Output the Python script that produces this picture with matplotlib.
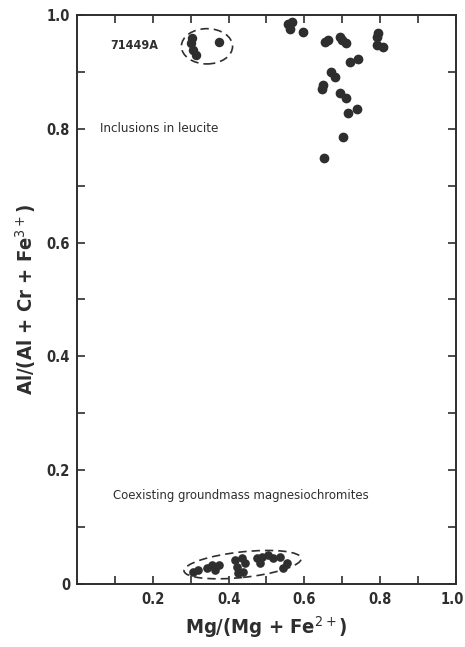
import matplotlib.pyplot as plt
import matplotlib.transforms as mtransforms
from matplotlib.patches import Ellipse

plt.rcParams['font.family'] = ['DejaVu Sans']
plt.rcParams['font.stretch'] = 'condensed'

# Inclusions in leucite (upper right group)
incl_x = [0.556, 0.562, 0.566, 0.596, 0.654, 0.662, 0.694, 0.699, 0.710,
          0.794, 0.792, 0.792, 0.807, 0.720, 0.741, 0.670, 0.681, 0.649,
          0.646, 0.694, 0.710, 0.715, 0.739, 0.702, 0.652]
incl_y = [0.985, 0.976, 0.988, 0.970, 0.953, 0.956, 0.961, 0.956, 0.951,
          0.968, 0.961, 0.947, 0.944, 0.917, 0.923, 0.900, 0.891, 0.877,
          0.870, 0.863, 0.854, 0.828, 0.835, 0.786, 0.749]

# Sample 71449A
s71_x = [0.304, 0.300, 0.306, 0.314, 0.375]
s71_y = [0.960, 0.950, 0.938, 0.930, 0.953]

# Coexisting groundmass magnesiochromites
gm_x = [0.306, 0.319, 0.343, 0.356, 0.365, 0.375, 0.417, 0.422, 0.425,
        0.435, 0.443, 0.438, 0.475, 0.483, 0.488, 0.504, 0.517, 0.536,
        0.554, 0.543]
gm_y = [0.021, 0.025, 0.028, 0.033, 0.024, 0.033, 0.042, 0.030, 0.019,
        0.046, 0.037, 0.021, 0.046, 0.037, 0.047, 0.051, 0.046, 0.047,
        0.037, 0.028]

x_ticks = [0.2, 0.4, 0.6, 0.8, 1.0]
x_labels = ['0.2', '0.4', '0.6', '0.8', '1.0']
y_ticks = [0, 0.2, 0.4, 0.6, 0.8, 1.0]
y_labels = ['0', '0.2', '0.4', '0.6', '0.8', '1.0']
minor_ticks = [0.1, 0.3, 0.5, 0.7, 0.9]

ink = '#2e2e2e'

fig = plt.figure(figsize=(4.65, 6.47), dpi=100)
ax = fig.add_axes([0.1656, 0.0974, 0.815, 0.8794])

ax.plot(incl_x, incl_y, 'o', color=ink, ms=6.0, mec=ink)
ax.plot(s71_x, s71_y, 'o', color=ink, ms=5.8, mec=ink)
ax.plot(gm_x, gm_y, 'o', color=ink, ms=5.2, mec=ink)

ax.add_patch(Ellipse((0.343, 0.945), 0.135, 0.062, fill=False, ec=ink,
                     lw=1.2, ls=(0, (5, 3))))
ax.add_patch(Ellipse((0.437, 0.034), 0.31, 0.045, angle=4, fill=False,
                     ec=ink, lw=1.2, ls=(0, (5, 3))))

ax.text(0.087, 0.947, '71449A', fontsize=9, fontweight='bold', color=ink,
        va='center')
ax.text(0.061, 0.801, 'Inclusions in leucite', fontsize=9.5, color=ink,
        va='center')
ax.text(0.095, 0.155, 'Coexisting groundmass magnesiochromites', fontsize=9.4,
        color=ink, va='center')

ax.set_xlim(0, 1.0)
ax.set_ylim(0, 1.0)
ax.set_xticks(x_ticks)
ax.set_xticklabels(x_labels)
ax.set_yticks(y_ticks)
ax.set_yticklabels(y_labels)
ax.set_xticks(minor_ticks, minor=True)
ax.set_yticks(minor_ticks, minor=True)
ax.tick_params(which='both', direction='in', length=6, width=1.2,
               top=True, right=True, colors=ink, labelsize=10.5)
ax.tick_params(axis='x', pad=6)
ax.tick_params(axis='y', pad=5)
for lab in ax.get_xticklabels() + ax.get_yticklabels():
    lab.set_fontweight('bold')
for sp in ax.spines.values():
    sp.set_linewidth(1.4)
    sp.set_color(ink)

# nudge the last x label so it stays inside the figure
last = ax.get_xticklabels()[-1]
last.set_transform(last.get_transform() +
                   mtransforms.ScaledTranslation(-4 / 100, 0, fig.dpi_scale_trans))

ax.set_xlabel('Mg/(Mg + Fe$^{2+}$)', fontsize=14.5, fontweight='bold',
              color=ink, labelpad=5)
ax.set_ylabel('Al/(Al + Cr + Fe$^{3+}$)', fontsize=14.5, fontweight='bold',
              color=ink, labelpad=6)

plt.savefig('out.png', dpi=100)
